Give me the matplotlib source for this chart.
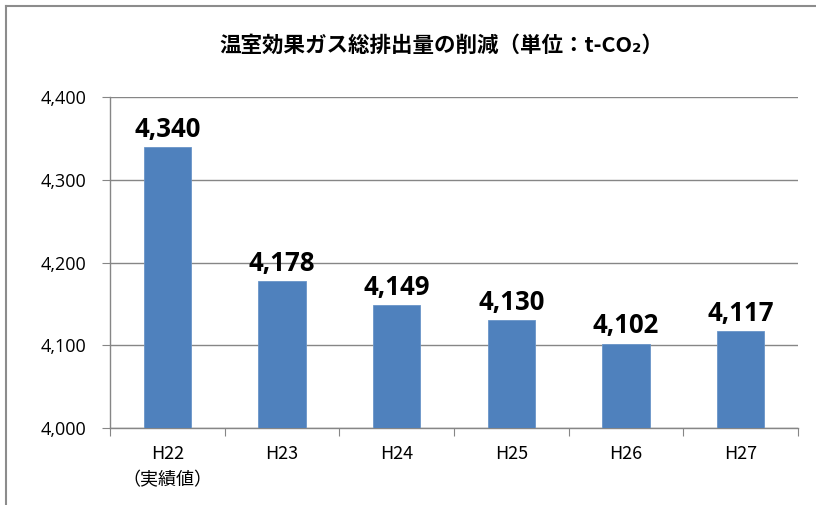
import matplotlib.pyplot as plt
from matplotlib.lines import Line2D
from matplotlib.ticker import FuncFormatter

# data
categories = ["H22\n（実績値）", "H23", "H24", "H25", "H26", "H27"]
emissions = [4340, 4178, 4149, 4130, 4102, 4117]
y_ticks = [4000, 4100, 4200, 4300, 4400]

jp = ["Noto Sans CJK JP", "DejaVu Sans"]
plt.rcParams["font.family"] = jp

fig = plt.figure(figsize=(8.16, 5.05), dpi=100)
ax = fig.add_axes([110/816, 77/505, 688/816, 331/505])

x = range(len(categories))
bars = ax.bar(x, emissions, width=0.41, color="#4F81BD", edgecolor="#6A95C8",
              linewidth=0.6, zorder=3)

for xi, v in zip(x, emissions):
    ax.text(xi, v + 5, f"{v:,}", ha="center", va="bottom", fontsize=18.5,
            fontweight="bold", family="Open Sans", color="black", zorder=4)

ax.set_xlim(-0.5, len(categories) - 0.5)
ax.set_ylim(4000, 4400)
ax.set_yticks(y_ticks)
ax.yaxis.set_major_formatter(FuncFormatter(lambda v, p: f"{int(v):,}"))
ax.grid(axis="y", color="#868686", linewidth=1.0, zorder=0)

# ticks at category boundaries, labels in centre
ax.set_xticks([i - 0.5 for i in range(len(categories) + 1)])
ax.set_xticklabels([])
ax.set_xticks(list(x), minor=True)
ax.set_xticklabels(categories, minor=True, fontsize=13, linespacing=1.6)
ax.tick_params(axis="x", which="minor", length=0, pad=12)
ax.tick_params(axis="x", which="major", length=6, color="#868686", direction="out")
ax.tick_params(axis="y", length=6, color="#868686", labelsize=13, pad=11)
for lbl in ax.get_xticklabels(minor=True):
    lbl.set_verticalalignment("top")
for lbl in ax.get_yticklabels():
    lbl.set_family("Open Sans")

for s in ["top", "right"]:
    ax.spines[s].set_visible(False)
for s in ["left", "bottom"]:
    ax.spines[s].set_color("#868686")
    ax.spines[s].set_linewidth(1.0)

fig.text(441/816, 1 - 45/505, "温室効果ガス総排出量の削減（単位：t-CO₂）",
         ha="center", va="center", fontsize=15.5, fontweight="bold", family=jp)

# chart area border (left and top)
fig.add_artist(Line2D([6/816, 6/816], [0, 1 - 6/505], color="#8c8c8c", lw=1.5,
                      transform=fig.transFigure))
fig.add_artist(Line2D([6/816, 1], [1 - 6/505, 1 - 6/505], color="#8c8c8c", lw=1.5,
                      transform=fig.transFigure))

fig.savefig("out.png", dpi=100)
